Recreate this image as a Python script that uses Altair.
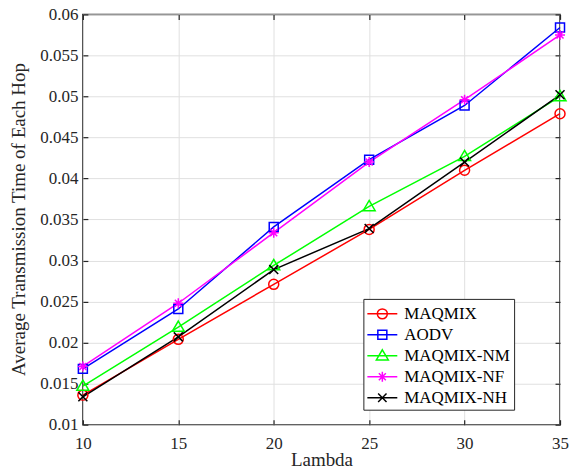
import altair as alt
import pandas as pd

lam = [10, 15, 20, 25, 30, 35]
series_names = ["MAQMIX", "AODV", "MAQMIX-NM", "MAQMIX-NF", "MAQMIX-NH"]
maqmix = [0.0136, 0.0204, 0.0271, 0.0338, 0.0410, 0.0479]
aodv = [0.0168, 0.0241, 0.0341, 0.0423, 0.0489, 0.0584]
maqmix_nm = [0.0147, 0.0219, 0.0294, 0.0366, 0.0427, 0.0500]
maqmix_nf = [0.0171, 0.0248, 0.0334, 0.0420, 0.0496, 0.0575]
maqmix_nh = [0.0134, 0.0207, 0.0289, 0.0339, 0.0420, 0.0502]
colors = ["#ff0000", "#0000ff", "#00ff00", "#ff00ff", "#000000"]
x_ticks = [10, 15, 20, 25, 30, 35]
y_ticks = [0.01, 0.015, 0.02, 0.025, 0.03, 0.035, 0.04, 0.045, 0.05, 0.055, 0.06]

rows = []
for i, (name, vals) in enumerate(zip(series_names, [maqmix, aodv, maqmix_nm, maqmix_nf, maqmix_nh])):
    for l, v in zip(lam, vals):
        rows.append({"Lambda": l, "value": v, "series": name, "idx": i})
df = pd.DataFrame(rows)

marker_paths = [
    "M-1,0A1,1 0 1,1 1,0A1,1 0 1,1 -1,0Z",
    "M-0.9,-0.9H0.9V0.9H-0.9Z",
    "M0,-1.2L1.2,0.85H-1.2Z",
    "M-1,0H1M0,-1V1M-0.7,-0.7L0.7,0.7M-0.7,0.7L0.7,-0.7",
    "M-0.9,-0.9L0.9,0.9M-0.9,0.9L0.9,-0.9",
]
legend_paths = [
    "M-1.5,0H1.5M-0.5,0A0.5,0.5 0 1,1 0.5,0A0.5,0.5 0 1,1 -0.5,0Z",
    "M-1.5,0H1.5M-0.45,-0.45H0.45V0.45H-0.45Z",
    "M-1.5,0H1.5M0,-0.6L0.6,0.42H-0.6Z",
    "M-1.5,0H1.5M0,-0.5V0.5M-0.35,-0.35L0.35,0.35M-0.35,0.35L0.35,-0.35",
    "M-1.5,0H1.5M-0.42,-0.42L0.42,0.42M-0.42,0.42L0.42,-0.42",
]

font = "'Liberation Serif', 'DejaVu Serif', 'Times New Roman', serif"
dark = "#262626"

color_scale = alt.Scale(domain=series_names, range=colors)
legend_shape_scale = alt.Scale(domain=series_names, range=legend_paths)
x_scale = alt.Scale(domain=[10, 35], nice=False)
y_scale = alt.Scale(domain=[0.01, 0.06], nice=False, zero=False)

legend = alt.Legend(
    title=None, orient="none", legendX=281, legendY=285, direction="vertical",
    fillColor="white", strokeColor=dark, padding=4,
    symbolSize=400, symbolStrokeWidth=1.5, symbolOpacity=1, symbolType="circle",
    symbolOffset=4,
    labelFont=font, labelFontSize=17, labelColor="black", labelOffset=11,
    rowPadding=2,
)

base = alt.Chart(df)

legend_layer = base.mark_point(filled=False, strokeWidth=1.5, opacity=0).encode(
    x=alt.X("Lambda:Q", scale=x_scale, axis=None),
    y=alt.Y("value:Q", scale=y_scale, axis=None),
    color=alt.Color("series:N", scale=color_scale, legend=legend),
    shape=alt.Shape("series:N", scale=legend_shape_scale, legend=legend),
)

lines = base.mark_line(strokeWidth=1.5).encode(
    x=alt.X("Lambda:Q", scale=x_scale, axis=alt.Axis(
        orient="bottom", values=x_ticks, format="d", offset=-5, tickSize=5,
        domain=False, grid=True, gridColor="#e0e0e0", gridWidth=1,
        tickColor=dark, tickWidth=1.2, labelFlush=False,
        labelFont=font, labelFontSize=17, labelColor=dark, labelPadding=11,
        title="Lambda", titleFont=font, titleFontSize=19, titleFontWeight="normal",
        titleColor=dark, titleY=40, titleBaseline="middle")),
    y=alt.Y("value:Q", scale=y_scale, axis=alt.Axis(
        orient="left", values=y_ticks, format=".3~f", offset=-5, tickSize=5,
        domain=False, grid=True, gridColor="#e0e0e0", gridWidth=1,
        tickColor=dark, tickWidth=1.2, labelFlush=False,
        labelFont=font, labelFontSize=17, labelColor=dark, labelPadding=5,
        title="Average Transmission Time of Each Hop", titleFont=font,
        titleFontSize=19, titleFontWeight="normal", titleColor=dark,
        titleX=-69, titleY=205, titleAlign="center", titleBaseline="middle")),
    color=alt.Color("series:N", scale=color_scale, legend=legend),
    detail="series:N",
)

point_layers = []
for i, (name, path) in enumerate(zip(series_names, marker_paths)):
    if i == 0:
        xa = alt.Axis(orient="top", values=x_ticks, labels=False, offset=-5, tickSize=5,
                      domain=False, grid=False, tickColor=dark, tickWidth=1.2, title=None)
        ya = alt.Axis(orient="right", values=y_ticks, labels=False, offset=-5, tickSize=5,
                      domain=False, grid=False, tickColor=dark, tickWidth=1.2, title=None)
    else:
        xa = None
        ya = None
    point_layers.append(
        base.transform_filter(alt.datum.series == name)
        .mark_point(shape=path, filled=False, size=100, strokeWidth=1.5, opacity=1)
        .encode(
            x=alt.X("Lambda:Q", scale=x_scale, axis=xa),
            y=alt.Y("value:Q", scale=y_scale, axis=ya),
            color=alt.Color("series:N", scale=color_scale, legend=legend),
        )
    )

chart = alt.layer(legend_layer, lines, *point_layers).resolve_axis(
    x="independent", y="independent"
).properties(
    width=478, height=411,
    autosize=alt.AutoSizeParams(type="none"),
    padding={"left": 75, "top": 6, "right": 10, "bottom": 50},
    background="white",
).configure_view(stroke=dark, strokeWidth=1.5)

chart.save("out.html", embed_options={"renderer": "svg", "actions": False})
